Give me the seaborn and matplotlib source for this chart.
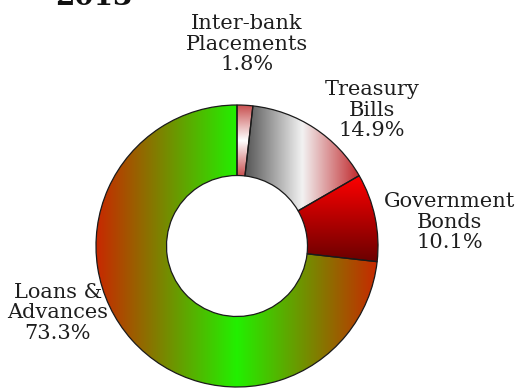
import numpy as np
import matplotlib
matplotlib.use("Agg")
import matplotlib.pyplot as plt
import seaborn as sns

# Asset mix of the portfolio (percent of total)
categories = ["Inter-bank\nPlacements", "Treasury\nBills", "Government\nBonds", "Loans &\nAdvances"]
shares = [1.8, 14.9, 10.1, 73.3]
title = "2013"

# Gradient fills per slice: (stops, direction)
fills = [
    (["#c85050", "#ffffff", "#c85050"], "vertical"),
    (["#555555", "#f2f2f2", "#c0282c"], "horizontal"),
    (["#ff0000", "#6a0000"], "vertical"),
    (["#c82800", "#22f000", "#c82800"], "horizontal"),
]

sns.set_theme(style="white")
plt.rcParams["font.family"] = ["DejaVu Serif"]

W, H = 520, 390
fig = plt.figure(figsize=(5.2, 3.9), dpi=100)
ax = fig.add_axes([0, 0, 1, 1])

center = (237, 390 - 246)
radius = 141
wedges, _ = ax.pie(
    shares,
    startangle=90,
    counterclock=False,
    radius=radius,
    center=center,
    wedgeprops=dict(width=radius * 0.5, facecolor="none", edgecolor="#1a1a1a", linewidth=0.9),
)

for w, (stops, direction) in zip(wedges, fills):
    w.set_zorder(3)
    bb = w.get_path().get_extents()
    cmap = sns.blend_palette(stops, as_cmap=True)
    ramp = np.linspace(0, 1, 256)
    if direction == "horizontal":
        img = ramp[np.newaxis, :]
        origin = "lower"
    else:
        img = ramp[:, np.newaxis]
        origin = "upper"
    im = ax.imshow(img, cmap=cmap, extent=(bb.x0, bb.x1, bb.y0, bb.y1),
                   origin=origin, aspect="auto", interpolation="bilinear", zorder=2)
    im.set_clip_path(w)

# Slice labels
label_pos = [(247, 390 - 44), (372, 390 - 110), (450, 390 - 222), (58, 390 - 313)]
for cat, val, (lx, ly) in zip(categories, shares, label_pos):
    ax.text(lx, ly, f"{cat}\n{val:.1f}%", ha="center", va="center",
            fontsize=15, color="#1e1e1e", linespacing=1.12, zorder=4)

# Year heading, partly above the top edge
ax.text(55, 390 - 5, title, ha="left", va="baseline", fontsize=20,
        fontweight="bold", color="#111111")

ax.set_xlim(0, W)
ax.set_ylim(0, H)
ax.set_aspect("equal")
ax.set_axis_off()

fig.savefig("out.png", dpi=100)
